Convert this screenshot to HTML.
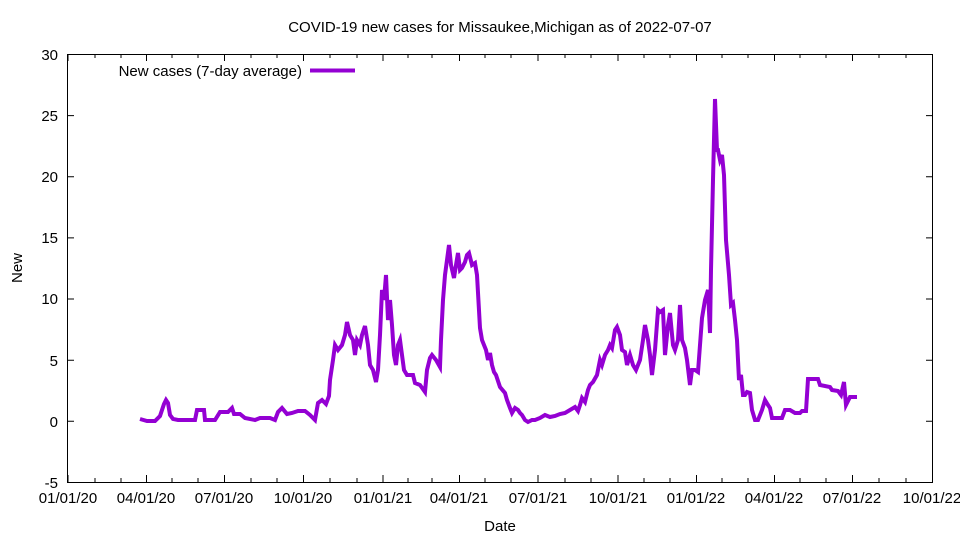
<!DOCTYPE html>
<html><head><meta charset="utf-8"><style>body{margin:0;background:#fff}svg{display:block}text{font-family:"Liberation Sans",sans-serif;font-size:15px;fill:#000}</style></head><body>
<svg width="960" height="540" xmlns="http://www.w3.org/2000/svg">
<text x="500" y="32" text-anchor="middle">COVID-19 new cases for Missaukee,Michigan as of 2022-07-07</text>
<rect x="67.5" y="54.5" width="865" height="428" fill="none" stroke="#000" stroke-width="1"/>
<g stroke="#000" stroke-width="1">
<path d="M67 54.5h7M926 54.5h7M67 115.6h7M926 115.6h7M67 176.8h7M926 176.8h7M67 237.9h7M926 237.9h7M67 299h7M926 299h7M67 360.2h7M926 360.2h7M67 421.3h7M926 421.3h7"/>
</g>
<g text-anchor="end">
<text x="58" y="60">30</text><text x="58" y="121">25</text><text x="58" y="182">20</text><text x="58" y="243">15</text><text x="58" y="304">10</text><text x="58" y="366">5</text><text x="58" y="427">0</text><text x="58" y="488">-5</text>
</g>
<g id="xt" stroke="#000" stroke-width="1"></g>
<g text-anchor="middle" id="xl">
<text x="68" y="503">01/01/20</text><text x="146" y="503">04/01/20</text><text x="224" y="503">07/01/20</text><text x="303" y="503">10/01/20</text><text x="383" y="503">01/01/21</text><text x="459" y="503">04/01/21</text><text x="538" y="503">07/01/21</text><text x="618" y="503">10/01/21</text><text x="696" y="503">01/01/22</text><text x="774" y="503">04/01/22</text><text x="852" y="503">07/01/22</text><text x="932" y="503">10/01/22</text>
</g>
<path stroke="#000" fill="none" d="M68 482v-7M146.5 482v-7M224.5 482v-7M303.5 482v-7M383 482v-7M459.5 482v-7M538 482v-7M618 482v-7M696.5 482v-7M774.5 482v-7M852.5 482v-7M68 54v7M146.5 54v7M224.5 54v7M303.5 54v7M383 54v7M459.5 54v7M538 54v7M618 54v7M696.5 54v7M774.5 54v7M852.5 54v7
M95 482v-4M121 482v-4M172 482v-4M198 482v-4M251 482v-4M277 482v-4M330 482v-4M357 482v-4M408 482v-4M432 482v-4M485 482v-4M511 482v-4M565 482v-4M591 482v-4M644 482v-4M670 482v-4M722 482v-4M748 482v-4M800 482v-4M826 482v-4M879 482v-4M906 482v-4
M95 54v4M121 54v4M172 54v4M198 54v4M251 54v4M277 54v4M330 54v4M357 54v4M408 54v4M432 54v4M485 54v4M511 54v4M565 54v4M591 54v4M644 54v4M670 54v4M722 54v4M748 54v4M800 54v4M826 54v4M879 54v4M906 54v4"/>
<text x="500" y="531" text-anchor="middle">Date</text>
<text transform="translate(22,268) rotate(-90)" text-anchor="middle">New</text>
<text x="302" y="76" text-anchor="end">New cases (7-day average)</text>
<line x1="310" y1="70.5" x2="355" y2="70.5" stroke="#9400d3" stroke-width="4"/>
<polyline fill="none" stroke="#9400d3" stroke-width="4" stroke-linejoin="miter" points="140,419 147,421 155,421 160,416 164,404 166,400 168,403 170,415 173,419 178,420 195,420 197,410 204,410 205,420 215,420 220,412 228,412 232,408 234,414 240,414 245,418 255,420 260,418 270,418 275,420 278,412 282,408 287,414 292,413 298,411 305,411 310,415 315,420 318,403 322,400 326,404 329,396 330,380 333,360 335,345 338,350 342,345 345,335 347,322 350,335 353,340 355,355 357,340 360,345 362,335 365,326 368,345 370,365 373,370 376,382 378,370 380,335 382,290 384,300 386,275 388,320 390,300 392,325 394,355 396,365 398,345 400,340 402,355 404,370 407,375 410,375 413,375 415,383 420,385 425,392 427,370 430,358 432,355 436,360 440,367 441,340 443,300 445,275 447,260 449,245 451,265 454,278 456,265 458,253 460,270 462,268 465,262 467,255 469,253 472,265 475,263 477,275 480,328 482,340 484,345 486,350 488,360 490,353 492,365 494,372 496,375 500,387 505,393 507,400 510,408 512,413 515,408 518,410 520,413 522,415 525,420 528,422 532,420 535,420 540,418 545,415 550,417 555,416 560,414 565,413 570,410 575,407 578,411 580,405 582,398 585,402 588,390 590,385 593,382 597,375 600,360 602,365 605,355 608,350 610,345 612,348 615,330 617,327 620,335 622,350 625,352 627,365 630,355 633,365 636,370 640,360 643,340 645,325 648,340 650,355 652,375 655,350 658,310 660,312 663,310 665,355 668,325 670,313 673,345 675,350 678,340 680,305 682,340 685,348 687,360 690,385 692,370 695,370 698,372 700,345 702,318 705,300 708,290 710,333 711,270 713,180 715,99 717,150 718,150 720,160 722,155 724,175 726,240 729,275 731,305 733,303 735,320 737,340 739,380 741,375 743,395 745,395 747,392 750,393 752,410 755,420 758,420 762,410 765,400 768,405 770,408 772,418 775,418 782,418 785,410 790,410 795,413 800,413 802,411 806,411 808,379 818,379 820,385 830,387 832,390 838,391 841,395 844,382 846,405 850,397 857,397"/>
</svg>
</body></html>
